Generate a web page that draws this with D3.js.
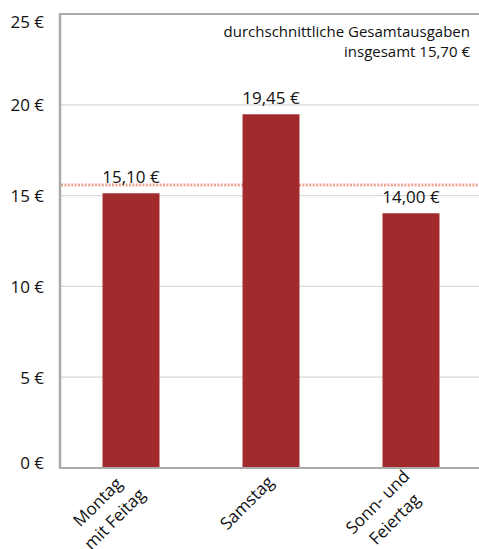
<!DOCTYPE html>
<html>
<head>
    <meta charset="utf-8">
    <script src="https://d3js.org/d3.v7.min.js"></script>
    <style>
        body { margin: 0; background: #fff; }
        text { font-family: "Open Sans", "Noto Sans", sans-serif; fill: #111; }
    </style>
</head>
<body>
    <div id="chart"></div>
    <script>
        // data
        var categories = [["Montag", "mit Feitag"], ["Samstag"], ["Sonn- und", "Feiertag"]];
        var values = [15.10, 19.45, 14.00];
        var valueLabels = ["15,10 €", "19,45 €", "14,00 €"];
        var yTicks = [0, 5, 10, 15, 20, 25];
        var average = 15.70;
        var noteLines = ["durchschnittliche Gesamtausgaben", "insgesamt 15,70 €"];

        var W = 479, H = 549;
        var plotLeft = 61, plotRight = 481, plotTop = 13.5, plotBottom = 467.5;

        var svg = d3.select("#chart").append("svg")
            .attr("width", W)
            .attr("height", H);

        var x = d3.scaleBand()
            .domain(d3.range(values.length))
            .range([plotLeft, plotRight])
            .paddingInner(0.593)
            .paddingOuter(0.2965);

        var y = d3.scaleLinear()
            .domain([0, 25])
            .range([plotBottom, plotTop]);

        // gridlines
        svg.append("g")
            .attr("class", "grid")
            .attr("transform", "translate(" + plotLeft + ",0)")
            .call(d3.axisLeft(y).tickValues(yTicks.slice(1, -1)).tickSize(-(plotRight - plotLeft)).tickFormat(""))
            .call(function (g) {
                g.select(".domain").remove();
                g.selectAll("line").attr("stroke", "#dadada").attr("stroke-width", 1.2);
            });

        // tick labels
        svg.append("g")
            .selectAll("text")
            .data(yTicks)
            .enter().append("text")
            .attr("x", 44)
            .attr("y", function (d) {
                if (d === 25) return y(d) + 7.5;
                if (d === 0) return y(d) - 5.5;
                return y(d) + 0.5;
            })
            .attr("dominant-baseline", "central")
            .attr("text-anchor", "end")
            .style("font-size", "17px")
            .text(function (d) { return d + " €"; });

        // average line (dotted), sits behind the bars
        svg.append("line")
            .attr("x1", plotLeft)
            .attr("x2", W)
            .attr("y1", y(average) + 2.5)
            .attr("y2", y(average) + 2.5)
            .attr("stroke", "#f0a494")
            .attr("stroke-width", 3)
            .attr("stroke-dasharray", "2,1.4");

        // bars
        svg.selectAll("rect.bar")
            .data(values)
            .enter().append("rect")
            .attr("class", "bar")
            .attr("x", function (d, i) { return x(i); })
            .attr("width", x.bandwidth())
            .attr("y", function (d) { return y(d); })
            .attr("height", function (d) { return y(0) - y(d); })
            .style("fill", "#a12a2d");

        // frame: left, top, bottom
        svg.append("line")
            .attr("x1", plotLeft - 1).attr("x2", plotLeft - 1)
            .attr("y1", plotTop).attr("y2", plotBottom + 1)
            .attr("stroke", "#aaaaaa").attr("stroke-width", 2.5);
        svg.append("line")
            .attr("x1", plotLeft - 2).attr("x2", W)
            .attr("y1", plotTop + 0.5).attr("y2", plotTop + 0.5)
            .attr("stroke", "#aaaaaa").attr("stroke-width", 2);
        svg.append("line")
            .attr("x1", plotLeft - 2).attr("x2", W)
            .attr("y1", plotBottom + 0.5).attr("y2", plotBottom + 0.5)
            .attr("stroke", "#aaaaaa").attr("stroke-width", 2);

        // value labels
        svg.selectAll("text.value")
            .data(values)
            .enter().append("text")
            .attr("class", "value")
            .attr("x", function (d, i) { return x(i) + x.bandwidth() / 2; })
            .attr("y", function (d) { return y(d) - 10.5; })
            .attr("text-anchor", "middle")
            .style("font-size", "17px")
            .text(function (d, i) { return valueLabels[i]; });

        // note in the top right corner
        svg.append("text")
            .attr("text-anchor", "end")
            .style("font-size", "15px")
            .selectAll("tspan")
            .data(noteLines)
            .enter().append("tspan")
            .attr("x", 470)
            .attr("y", function (d, i) { return 37 + i * 20; })
            .text(function (d) { return d; });

        // rotated category labels
        var cat = svg.selectAll("g.cat")
            .data(categories)
            .enter().append("g")
            .attr("class", "cat")
            .attr("transform", function (d, i) {
                return "translate(" + (x(i) + x.bandwidth() / 2 - 20) + ",507) rotate(-45)";
            });

        cat.each(function (lines) {
            d3.select(this).append("text")
                .attr("text-anchor", "middle")
                .style("font-size", "17px")
                .selectAll("tspan")
                .data(lines)
                .enter().append("tspan")
                .attr("x", lines.length === 1 ? 0 : -6)
                .attr("y", function (d, i) {
                    if (lines.length === 1) return 0;
                    return i === 0 ? -7 : 17;
                })
                .text(function (d) { return d; });
        });
    </script>
</body>
</html>
